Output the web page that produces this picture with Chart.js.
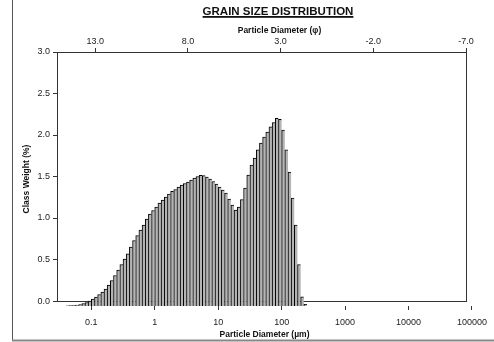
<!DOCTYPE html>
<html>
<head>
<meta charset="utf-8">
<title>Grain Size Distribution</title>
<script src="https://cdn.jsdelivr.net/npm/chart.js@4.4.1/dist/chart.umd.min.js"></script>
<style>
    html, body { margin: 0; padding: 0; background: #fff; }
    #wrap { width: 494px; height: 342px; }
</style>
</head>
<body>
<div id="wrap"><canvas id="grainChart" width="494" height="342"></canvas></div>
<script>
// bin centres in um (20 bins per decade)
const binSizes = [
    0.04217, 0.04732, 0.05309, 0.05957, 0.06683, 0.07499, 0.08414, 0.09441, 0.1059, 0.1189,
    0.1334, 0.1496, 0.1679, 0.1884, 0.2113, 0.2371, 0.2661, 0.2985, 0.3350, 0.3758,
    0.4217, 0.4732, 0.5309, 0.5957, 0.6683, 0.7499, 0.8414, 0.9441, 1.059, 1.189,
    1.334, 1.496, 1.679, 1.884, 2.113, 2.371, 2.661, 2.985, 3.350, 3.758,
    4.217, 4.732, 5.309, 5.957, 6.683, 7.499, 8.414, 9.441, 10.59, 11.89,
    13.34, 14.96, 16.79, 18.84, 21.13, 23.71, 26.61, 29.85, 33.50, 37.58,
    42.17, 47.32, 53.09, 59.57, 66.83, 74.99, 84.14, 94.41, 105.9, 118.9,
    133.4, 149.6, 167.9, 188.4, 211.3, 237.1
];

// class weight (%)
const classWeight = [
    0.003, 0.004, 0.006, 0.012, 0.018, 0.030, 0.042, 0.060, 0.084, 0.108,
    0.139, 0.169, 0.205, 0.253, 0.307, 0.367, 0.434, 0.500, 0.566, 0.627,
    0.711, 0.789, 0.849, 0.916, 0.976, 1.048, 1.108, 1.151, 1.193, 1.241,
    1.277, 1.313, 1.349, 1.380, 1.404, 1.434, 1.458, 1.476, 1.494, 1.518,
    1.542, 1.560, 1.575, 1.570, 1.554, 1.530, 1.500, 1.470, 1.434, 1.398,
    1.361, 1.289, 1.217, 1.157, 1.193, 1.283, 1.422, 1.578, 1.699, 1.783,
    1.880, 1.964, 2.036, 2.096, 2.157, 2.211, 2.261, 2.250, 2.120, 1.880,
    1.614, 1.300, 0.976, 0.500, 0.110, 0.020
];

const micronTicks = [0.1, 1, 10, 100, 1000, 10000, 100000];
const phiTicks = [13.0, 8.0, 3.0, -2.0, -7.0];
const weightTicks = [0.0, 0.5, 1.0, 1.5, 2.0, 2.5, 3.0];

Chart.defaults.font.family = '"Liberation Sans", Arial, sans-serif';
Chart.defaults.color = '#222';

const tickFont = { size: 9 };
const titleFont = { size: 8.5, weight: 'bold' };

// frame, plot box and the two titles that sit above the phi axis
const decorPlugin = {
    id: 'decor',
    beforeDraw(chart) {
        const ctx = chart.ctx;
        ctx.save();
        ctx.fillStyle = '#fff';
        ctx.fillRect(0, 0, chart.width, chart.height);
        ctx.restore();
    },
    beforeDatasetsDraw(chart) {
        const ctx = chart.ctx;
        const xs = chart.scales.xTop;
        const y = chart.scales.y;
        const left = chart.chartArea.left;
        const right = xs.getPixelForValue(-7);
        const top = y.getPixelForValue(3);
        const bottom = y.getPixelForValue(0);
        ctx.save();
        ctx.strokeStyle = '#333';
        ctx.lineWidth = 1;
        ctx.strokeRect(Math.round(left) + 0.5, Math.round(top) + 0.5,
            Math.round(right - left), Math.round(bottom - top));
        ctx.restore();
    },
    afterDraw(chart) {
        const ctx = chart.ctx;
        ctx.save();
        // outer frame
        ctx.strokeStyle = '#555';
        ctx.lineWidth = 1;
        ctx.beginPath();
        ctx.moveTo(12.5, 0);
        ctx.lineTo(12.5, 340);
        ctx.stroke();
        ctx.fillStyle = '#888';
        ctx.fillRect(12, 339.5, chart.width - 12, 2);

        // main title
        ctx.fillStyle = '#111';
        ctx.font = 'bold 11.5px "Liberation Sans", Arial, sans-serif';
        ctx.textAlign = 'center';
        ctx.textBaseline = 'alphabetic';
        const title = 'GRAIN SIZE DISTRIBUTION';
        ctx.fillText(title, 278, 15);
        const w = ctx.measureText(title).width;
        ctx.fillRect(278 - w / 2, 16, w, 1.8);

        // phi axis title
        ctx.font = 'bold 8.5px "Liberation Sans", Arial, sans-serif';
        ctx.textBaseline = 'middle';
        ctx.fillText('Particle Diameter (\u03C6)', 279.5, 31);
        ctx.restore();
    }
};

new Chart(document.getElementById('grainChart'), {
    type: 'bar',
    data: {
        datasets: [{
            label: 'Class Weight (%)',
            data: binSizes.map((s, i) => ({ x: s, y: classWeight[i] })),
            xAxisID: 'x',
            yAxisID: 'yBar',
            backgroundColor: '#b4b4b4',
            borderColor: '#000',
            borderWidth: { top: 1, left: 1, right: 0, bottom: 0 },
            borderSkipped: false,
            categoryPercentage: 1.0,
            barPercentage: 1.0
        }]
    },
    options: {
        responsive: false,
        animation: false,
        devicePixelRatio: 1,
        layout: { padding: { left: 0, right: 18, top: 0, bottom: 0 } },
        plugins: {
            legend: { display: false },
            tooltip: { enabled: false },
            title: { display: false }
        },
        scales: {
            x: {
                type: 'logarithmic',
                position: 'bottom',
                min: 0.0288,
                max: 100000,
                offset: false,
                grid: { offset: false, drawOnChartArea: false, tickLength: 4, color: '#333' },
                border: { display: false },
                ticks: {
                    font: tickFont,
                    padding: 7,
                    maxRotation: 0,
                    autoSkip: false,
                    callback: v => String(v)
                },
                afterBuildTicks: scale => { scale.ticks = micronTicks.map(v => ({ value: v })); },
                afterFit: scale => { scale.height = 36; },
                title: {
                    display: true,
                    text: 'Particle Diameter (\u00B5m)',
                    font: titleFont,
                    color: '#111',
                    padding: { top: 0, bottom: 2 }
                }
            },
            xTop: {
                type: 'linear',
                axis: 'x',
                position: 'top',
                reverse: true,
                min: -7.32,
                max: 15.06,
                offset: false,
                grid: { offset: false, drawOnChartArea: false, tickLength: 4, color: '#333' },
                border: { display: false },
                ticks: {
                    font: tickFont,
                    padding: 1,
                    maxRotation: 0,
                    autoSkip: false,
                    callback: v => v.toFixed(1)
                },
                afterBuildTicks: scale => { scale.ticks = phiTicks.map(v => ({ value: v })); },
                afterFit: scale => { scale.height = 52; }
            },
            y: {
                type: 'linear',
                position: 'left',
                min: -0.06,
                max: 3.0,
                grid: { drawOnChartArea: false, tickLength: 4, color: '#333' },
                border: { display: false },
                ticks: {
                    font: tickFont,
                    padding: 3,
                    callback: v => v.toFixed(1)
                },
                afterBuildTicks: scale => { scale.ticks = weightTicks.map(v => ({ value: v })); },
                afterFit: scale => { scale.width = 57; },
                title: {
                    display: true,
                    text: 'Class Weight (%)',
                    font: titleFont,
                    color: '#111',
                    padding: { top: 22, bottom: 0 }
                }
            },
            yBar: {
                type: 'linear',
                position: 'left',
                display: false,
                min: 0,
                max: 3.06
            }
        }
    },
    plugins: [decorPlugin]
});
</script>
</body>
</html>
